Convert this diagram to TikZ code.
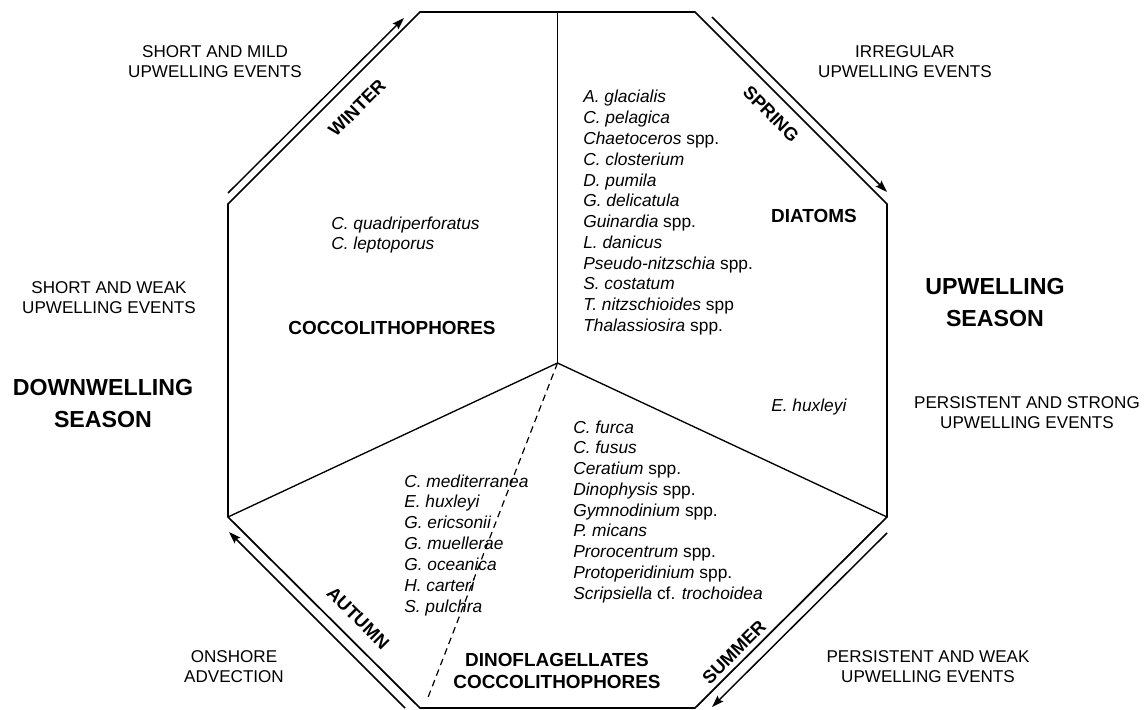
\documentclass[tikz,border=0pt]{standalone}
\usepackage{fontspec}
\setmainfont{Liberation Sans}
\usetikzlibrary{arrows.meta,calc}
\begin{document}
\begin{tikzpicture}[x=0.75pt,y=-0.75pt,
  outline/.style={line width=1.3pt, line join=miter},
  divider/.style={line width=1pt},
  dashdiv/.style={line width=0.9pt, dash pattern=on 5pt off 3.5pt},
  seasonarrow/.style={line width=1.1pt, -{Stealth[length=9pt,width=6pt,inset=1.5pt]}},
  note/.style={font=\fontsize{12.8}{15}\selectfont, align=center, inner sep=0},
  bigsea/.style={font=\bfseries\fontsize{17.4}{24}\selectfont, align=center, inner sep=0},
  group/.style={font=\bfseries\fontsize{14.2}{16.5}\selectfont, align=center, inner sep=0},
  seasonlbl/.style={font=\bfseries\fontsize{13.7}{16}\selectfont, inner sep=0},
  sp/.style={font=\fontsize{13}{15.5}\selectfont, inner sep=0, anchor=base west}
]
\useasboundingbox (0,0) rectangle (1146,710);

% octagon vertices
\coordinate (TL) at (420,12);
\coordinate (TM) at (557.5,12);
\coordinate (TR) at (695,12);
\coordinate (UR) at (887,204);
\coordinate (LR) at (887,517);
\coordinate (BR) at (695,708);
\coordinate (BL) at (420,708);
\coordinate (LL) at (228,517);
\coordinate (UL) at (228,204);
\coordinate (C) at (557.5,363);
\coordinate (D) at (427,700);

\draw[outline] (TL) -- (TR) -- (UR) -- (LR) -- (BR) -- (BL) -- (LL) -- (UL) -- cycle;
\draw[divider] (TM) -- (C);
\draw[divider] (C) -- (LL);
\draw[divider] (C) -- (LR);
\draw[dashdiv] (C) -- (D);

% season arrows
\coordinate (w1) at (228,193);
\coordinate (w2) at (404,18);
\coordinate (s1) at (712,17);
\coordinate (s2) at (887,192);
\coordinate (m1) at (887,533);
\coordinate (m2) at (712,707);
\coordinate (a1) at (405,708);
\coordinate (a2) at (229,532);
\draw[seasonarrow] (w1) -- (w2);
\draw[seasonarrow] (s1) -- (s2);
\draw[seasonarrow] (m1) -- (m2);
\draw[seasonarrow] (a1) -- (a2);

% season labels
\node[seasonlbl, rotate=45] (winter) at (357,108) {WINTER};
\node[seasonlbl, rotate=-45] (spring) at (771,114) {SPRING};
\node[seasonlbl, rotate=-45] (autumn) at (358,618) {AUTUMN};
\node[seasonlbl, rotate=45] (summer) at (734,652) {SUMMER};

% outside notes
\node[note] (mild) at (215,62) {SHORT AND MILD\\UPWELLING EVENTS};
\node[note] (weak) at (109,297.5) {SHORT AND WEAK\\UPWELLING EVENTS};
\node[bigsea] (down) at (103,403.5) {DOWNWELLING\\SEASON};
\node[note] (irr) at (905,62) {IRREGULAR\\UPWELLING EVENTS};
\node[bigsea] (up) at (995,302.5) {UPWELLING\\SEASON};
\node[note] (strong) at (1027,413) {PERSISTENT AND STRONG\\UPWELLING EVENTS};
\node[note] (pweak) at (928,666.5) {PERSISTENT AND WEAK\\UPWELLING EVENTS};
\node[note] (onshore) at (234,667) {ONSHORE\\ADVECTION};

% group labels
\node[group] (cocco) at (392,328) {COCCOLITHOPHORES};
\node[group] (diat) at (814,216) {DIATOMS};
\node[group] (dino) at (557,671) {DINOFLAGELLATES\\COCCOLITHOPHORES};

% species lists
\foreach \t [count=\i from 0] in {{\textit{A. glacialis}},{\textit{C. pelagica}},{\textit{Chaetoceros} spp.},{\textit{C. closterium}},{\textit{D. pumila}},{\textit{G. delicatula}},{\textit{Guinardia} spp.},{\textit{L. danicus}},{\textit{Pseudo-nitzschia} spp.},{\textit{S. costatum}},{\textit{T. nitzschioides} spp},{\textit{Thalassiosira} spp.}}
  \node[sp] (dia\i) at (583,{103+\i*20.75}) {\t};

\foreach \t [count=\i from 0] in {{\textit{C. quadriperforatus}},{\textit{C. leptoporus}}}
  \node[sp] (cup\i) at (331,{229+\i*20.5}) {\t};

\node[sp] (ehux) at (771,411) {\textit{E. huxleyi}};

\foreach \t [count=\i from 0] in {{\textit{C. furca}},{\textit{C. fusus}},{\textit{Ceratium} spp.},{\textit{Dinophysis} spp.},{\textit{Gymnodinium} spp.},{\textit{P. micans}},{\textit{Prorocentrum} spp.},{\textit{Protoperidinium} spp.},{\textit{Scripsiella} cf. \textit{trochoidea}}}
  \node[sp] (din\i) at (573,{433+\i*20.75}) {\t};

\foreach \t [count=\i from 0] in {{\textit{C. mediterranea}},{\textit{E. huxleyi}},{\textit{G. ericsonii}},{\textit{G. muellerae}},{\textit{G. oceanica}},{\textit{H. carteri}},{\textit{S. pulchra}}}
  \node[sp] (clo\i) at (404,{487+\i*20.9}) {\t};

\end{tikzpicture}
\end{document}
